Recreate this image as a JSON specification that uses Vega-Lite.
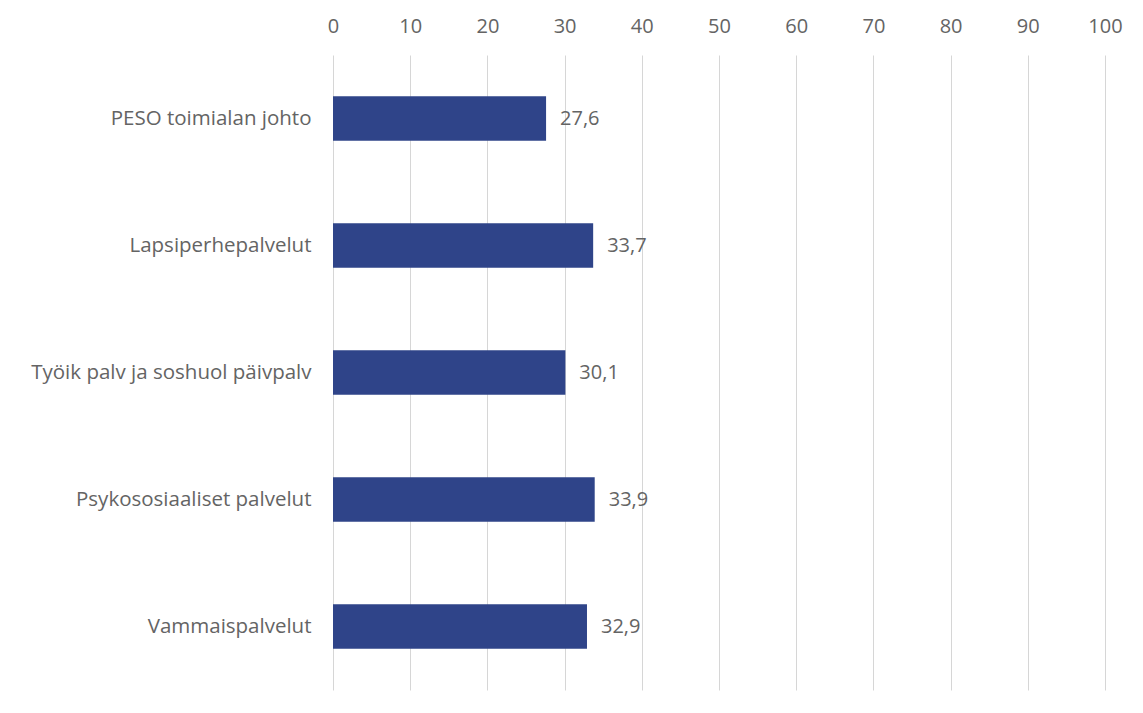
{
  "$schema": "https://vega.github.io/schema/vega-lite/v6.json",
  "autosize": {"type": "none"},
  "padding": {"left": 333, "top": 55, "right": 38, "bottom": 23},
  "width": 772,
  "height": 635,
  "background": "white",
  "config": {
    "view": {"stroke": null},
    "locale": {"number": {"decimal": ",", "thousands": "\u00a0", "grouping": [3], "currency": ["", "\u00a0€"]}},
    "font": "Open Sans"
  },
  "data": {
    "values": [
      {"yksikkö": "PESO toimialan johto", "arvo": 27.6},
      {"yksikkö": "Lapsiperhepalvelut", "arvo": 33.7},
      {"yksikkö": "Työik palv ja soshuol päivpalv", "arvo": 30.1},
      {"yksikkö": "Psykososiaaliset palvelut", "arvo": 33.9},
      {"yksikkö": "Vammaispalvelut", "arvo": 32.9}
    ]
  },
  "encoding": {
    "y": {
      "field": "yksikkö",
      "type": "nominal",
      "sort": null,
      "title": null,
      "scale": {"paddingInner": 0.65, "paddingOuter": 0.325},
      "axis": {
        "domain": false,
        "ticks": false,
        "labelPadding": 22,
        "labelFontSize": 20.5,
        "labelColor": "#646464",
        "labelFont": "Open Sans",
        "labelLimit": 400
      }
    }
  },
  "layer": [
    {
      "mark": {"type": "bar", "color": "#2F4489"},
      "encoding": {
        "x": {
          "field": "arvo",
          "type": "quantitative",
          "title": null,
          "scale": {"domain": [0, 100], "nice": false},
          "axis": {
            "orient": "top",
            "values": [0, 10, 20, 30, 40, 50, 60, 70, 80, 90, 100],
            "domain": false,
            "ticks": false,
            "labelPadding": 19,
            "labelFontSize": 20,
            "labelColor": "#646464",
            "labelFont": "Open Sans",
            "grid": true,
            "gridColor": "#D6D6D6",
            "gridWidth": 1,
            "labelFlush": false
          }
        }
      }
    },
    {
      "mark": {"type": "text", "align": "left", "baseline": "middle", "dx": 14, "fontSize": 20, "color": "#646464", "font": "Open Sans"},
      "encoding": {
        "x": {"field": "arvo", "type": "quantitative"},
        "text": {"field": "arvo", "type": "quantitative", "format": ".1f"}
      }
    }
  ]
}
